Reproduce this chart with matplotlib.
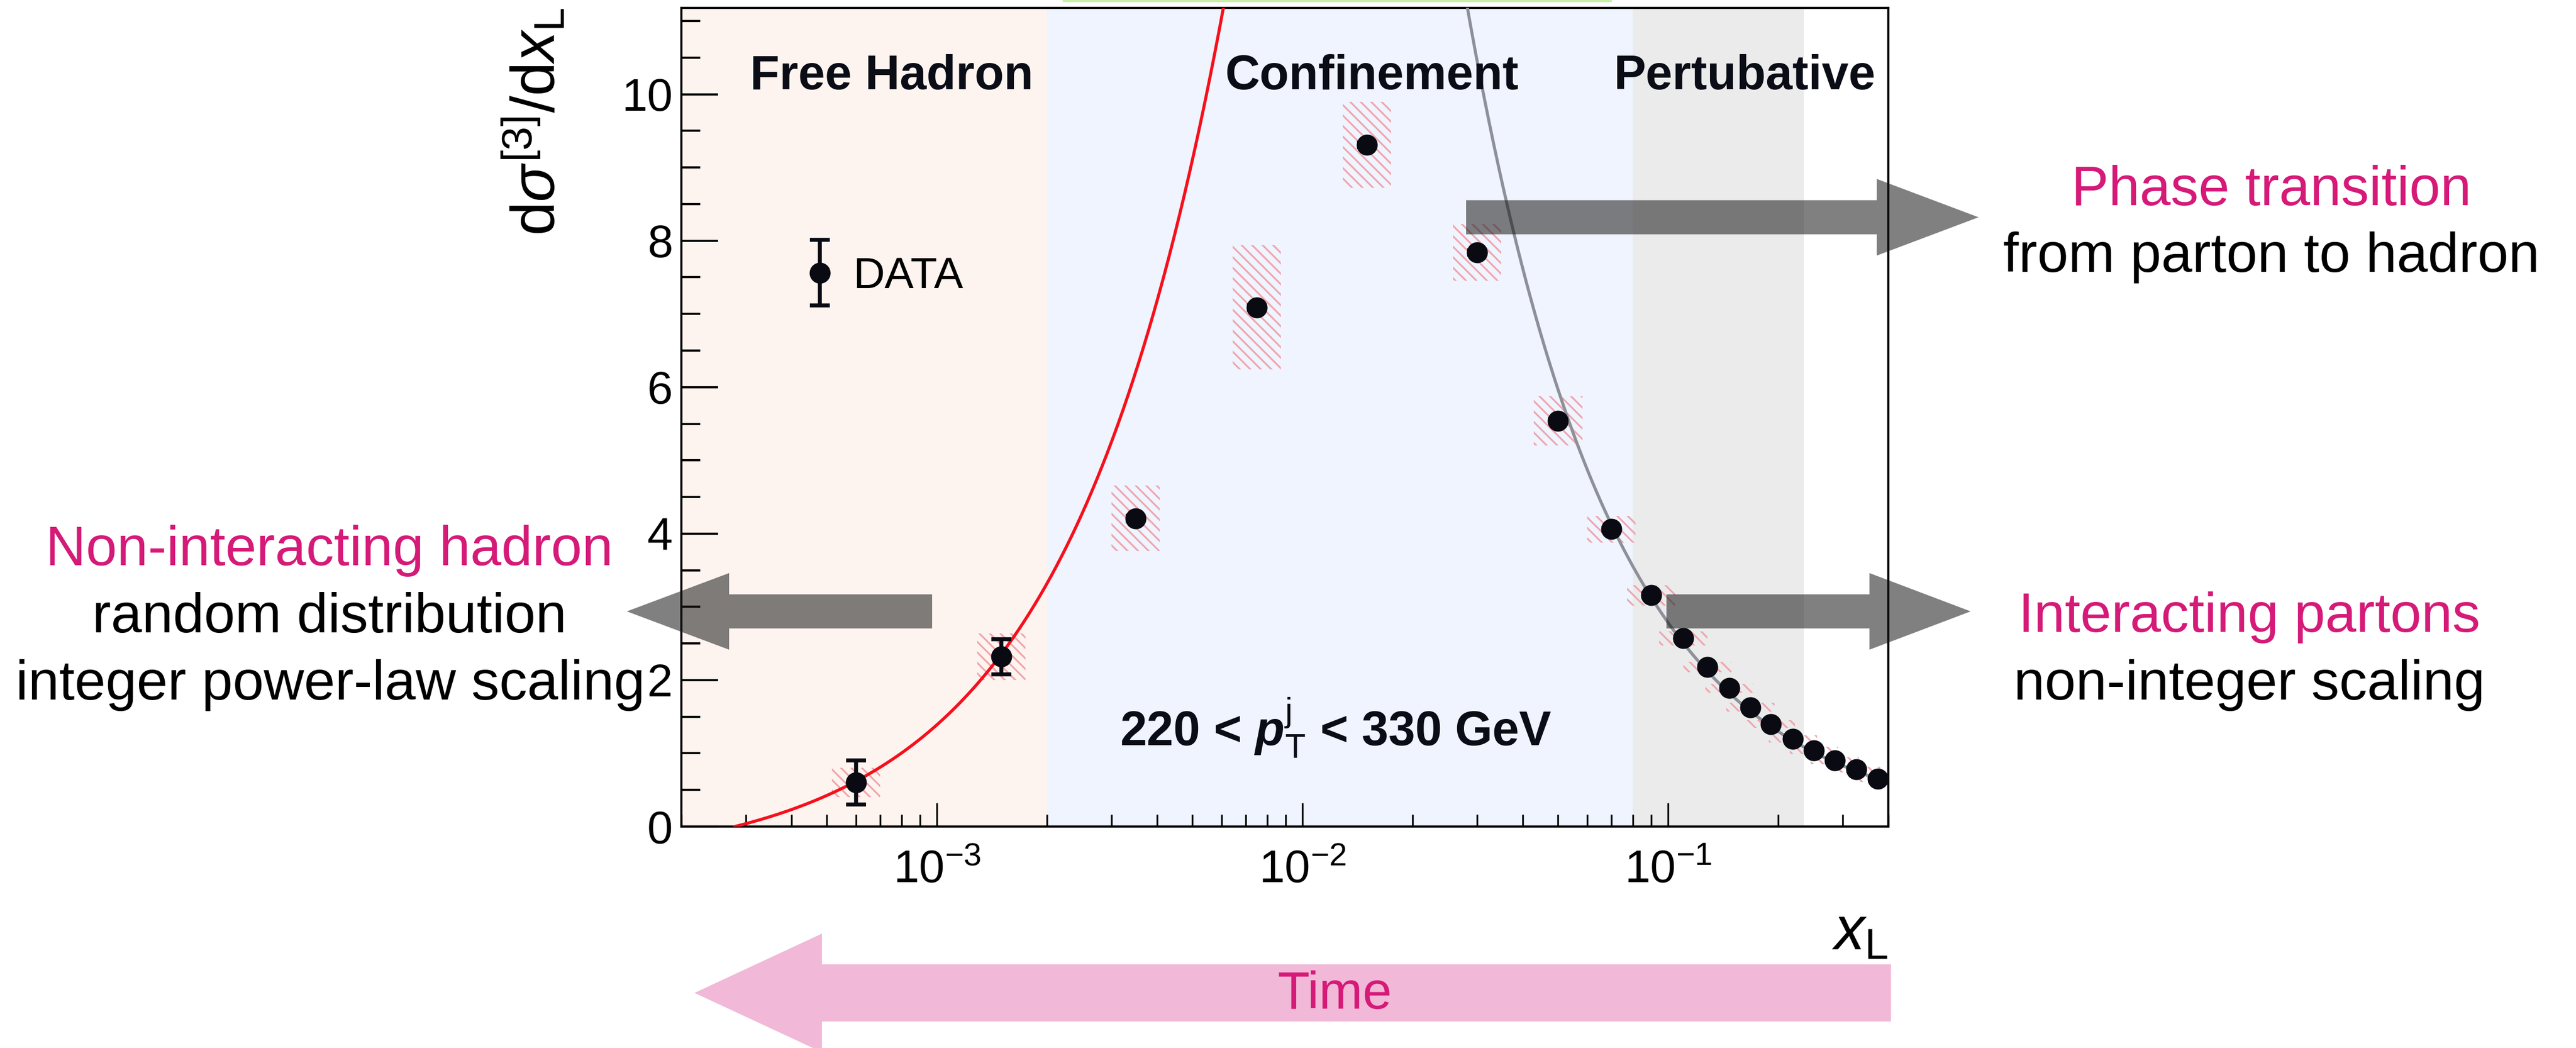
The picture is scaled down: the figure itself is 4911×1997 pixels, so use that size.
import numpy as np
import matplotlib
matplotlib.use('Agg')
import matplotlib.pyplot as plt
from matplotlib.patches import FancyArrow, Rectangle
from matplotlib.ticker import MultipleLocator, LogLocator
from matplotlib.container import ErrorbarContainer
from matplotlib.legend_handler import HandlerErrorbar

plt.rcParams['font.family'] = ['Liberation Sans', 'DejaVu Sans']
plt.rcParams['mathtext.fontset'] = 'custom'
plt.rcParams['mathtext.rm'] = 'Liberation Sans'
plt.rcParams['mathtext.it'] = 'Liberation Sans:italic'
plt.rcParams['mathtext.bf'] = 'Liberation Sans:bold'
plt.rcParams['mathtext.bfit'] = 'Liberation Sans:italic:bold'
plt.rcParams['axes.unicode_minus'] = False
plt.rcParams['hatch.linewidth'] = 0.8

# measured distribution
x_L = [6.0e-4, 1.5e-3, 3.5e-3, 7.5e-3, 1.5e-2, 3.0e-2, 5.0e-2, 7.0e-2, 9.0e-2,
       0.110, 0.128, 0.147, 0.168, 0.191, 0.219, 0.250, 0.286, 0.327, 0.375]
dsigma = [0.60, 2.32, 4.21, 7.09, 9.31, 7.84, 5.54, 4.06, 3.16,
          2.57, 2.18, 1.89, 1.63, 1.40, 1.20, 1.04, 0.90, 0.78, 0.65]
stat_err = [0.30, 0.24, 0.03, 0.03, 0.03, 0.03, 0.02, 0.02, 0.02,
            0.02, 0.02, 0.02, 0.02, 0.02, 0.02, 0.02, 0.02, 0.02, 0.02]
syst_err = [0.20, 0.32, 0.45, 0.85, 0.59, 0.39, 0.34, 0.18, 0.14,
            0.095, 0.07, 0.06, 0.06, 0.055, 0.05, 0.05, 0.045, 0.04, 0.04]
box_half_dex = 0.066

# regions along x_L
free_hadron_max = 2e-3
confinement_max = 8e-2
pertubative_max = 0.235

# fitted curves
lin_slope, lin_x0 = 1930.0, 2.8e-4    # integer scaling
pow_norm, pow_index = 0.221, 1.10     # non-integer scaling

W, H, DPI = 4911, 1997, 300
MAGENTA = '#d51a78'


def fx(px):
    return px / W


def fy(py):
    return 1 - py / H


def inch(px, py):
    return px / DPI, (H - py) / DPI


fig = plt.figure(figsize=(W / DPI, H / DPI), dpi=DPI)
ax = fig.add_axes([fx(1299), fy(1575), 2301 / W, 1560 / H])
ax.set_xscale('log')
ax.set_xlim(2e-4, 0.4)
ax.set_ylim(0, 11.18)

ax.axvspan(2e-4, free_hadron_max, color='#fdf4ef', lw=0, zorder=0)
ax.axvspan(free_hadron_max, confinement_max, color='#eff4fe', lw=0, zorder=0)
ax.axvspan(confinement_max, pertubative_max, color='#ebebeb', lw=0, zorder=0)

# systematic boxes
x = np.array(x_L)
y = np.array(dsigma)
s = np.array(syst_err)
f = 10 ** box_half_dex
ax.bar(x / f, 2 * s, width=x * f - x / f, bottom=y - s, align='edge',
       fill=False, hatch='\\\\\\\\\\', edgecolor='#f0a5ae', linewidth=0, zorder=2)

# fits
xr = np.logspace(np.log10(lin_x0), np.log10(7e-3), 300)
ax.plot(xr, lin_slope * (xr - lin_x0), color='#f5101c', lw=1.4, zorder=3)
xg = np.logspace(np.log10(0.02), np.log10(0.375), 300)
ax.plot(xg, pow_norm * xg ** (-pow_index), color='#8e9099', lw=1.4, zorder=3)

eb = ax.errorbar(x_L, dsigma, yerr=stat_err, fmt='o', color='#0a0a12', ms=8.6,
                 elinewidth=1.8, capsize=4.6, capthick=1.8, zorder=4)
ax.legend([eb], ['DATA'], loc='center left', bbox_to_anchor=(0.1004, 0.672),
          frameon=False, fontsize=20, handlelength=0.8, handletextpad=0.35,
          borderpad=0, borderaxespad=0,
          handler_map={ErrorbarContainer: HandlerErrorbar(xerr_size=0.75)})

ax.yaxis.set_major_locator(MultipleLocator(2))
ax.yaxis.set_minor_locator(MultipleLocator(0.5))
ax.xaxis.set_major_locator(LogLocator(10))
ax.xaxis.set_minor_locator(LogLocator(10, subs=np.arange(2, 10)))
ax.tick_params(axis='y', which='major', direction='in', length=16.8, width=1.0,
               labelsize=21, pad=4, right=False)
ax.tick_params(axis='y', which='minor', direction='in', length=8.6, width=1.0, right=False)
ax.tick_params(axis='x', which='major', direction='in', length=10.8, width=0.8,
               labelsize=21, pad=10.5, top=False)
ax.tick_params(axis='x', which='minor', direction='in', length=5.5, width=0.8, top=False)
for sp in ax.spines.values():
    sp.set_linewidth(1.0)

ax.set_ylabel(r'd$\sigma^{[3]}$/d$x_{\mathrm{L}}$', fontsize=28, loc='top')
ax.yaxis.set_label_coords(-0.0943, 1.0)
ax.set_xlabel(r'$x_{\mathrm{L}}$', fontsize=28, loc='right')
ax.xaxis.set_label_coords(1.0, -0.096)

for label, xf in [('Free Hadron', 0.1744), ('Confinement', 0.5719), ('Pertubative', 0.8813)]:
    ax.text(xf, 0.9006, label, transform=ax.transAxes, ha='center', va='baseline',
            fontsize=22, fontweight='bold', color='#0b0d16')
ax.text(0.5424, 0.0994, r'220 < $\mathbfit{p}_{\mathrm{T}}^{\mathrm{j}}$ < 330 GeV',
        transform=ax.transAxes, ha='center', va='baseline', fontsize=22,
        fontweight='bold', color='#0b0d16')

# arrows
def arrow(tail_px, tip_px, ypx, shaft, head, head_len, color, alpha):
    x0, y0 = inch(tail_px, ypx)
    x1, _ = inch(tip_px, ypx)
    a = FancyArrow(x0, y0, x1 - x0, 0, width=shaft / DPI, head_width=head / DPI,
                   head_length=head_len / DPI, length_includes_head=True,
                   transform=fig.dpi_scale_trans, color=color, alpha=alpha,
                   lw=0, zorder=5)
    fig.add_artist(a)


arrow(1777, 1195, 1165, 65, 146, 195, '#181818', 0.55)
arrow(2795, 3772, 414, 65, 146, 194, '#181818', 0.55)
arrow(3177, 3757, 1165, 65, 146, 193, '#181818', 0.55)
arrow(3605, 1324, 1892, 109, 226, 243, '#f1b9d7', 1.0)

fig.text(fx(2545), fy(1922), 'Time', color=MAGENTA, fontsize=24, ha='center',
         va='baseline', zorder=6)

fs = 25.5
notes = [
    (4330, 391, 'Phase transition', MAGENTA),
    (4330, 518, 'from parton to hadron', 'black'),
    (4288, 1204, 'Interacting partons', MAGENTA),
    (4288, 1333, 'non-integer scaling', 'black'),
    (628, 1077, 'Non-interacting hadron', MAGENTA),
    (628, 1205, 'random distribution', 'black'),
    (630, 1333, 'integer power-law scaling', 'black'),
]
for px, py, txt, col in notes:
    fig.text(fx(px), fy(py), txt, color=col, fontsize=fs, ha='center',
             va='baseline', zorder=6)

fig.add_artist(Rectangle((fx(2026), fy(4)), 1047 / W, 4 / H, transform=fig.transFigure,
                         color='#c6f3a6', lw=0))

fig.savefig('out.png', dpi=DPI)
